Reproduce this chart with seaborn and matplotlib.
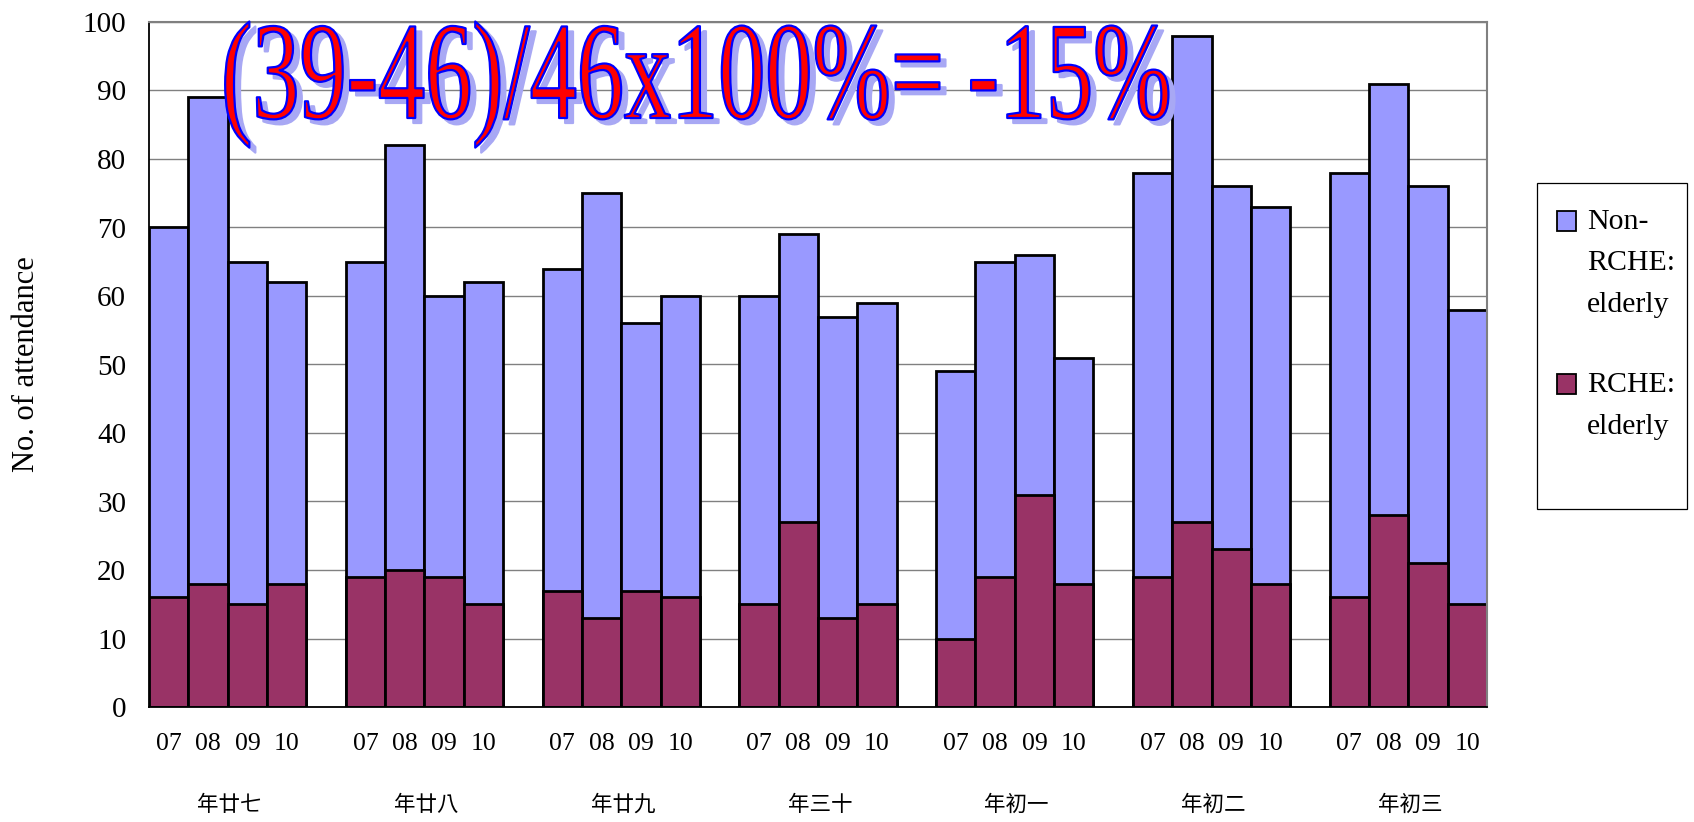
import numpy as np
import pandas as pd
import seaborn as sns
import matplotlib
matplotlib.use("Agg")
import matplotlib.pyplot as plt
from matplotlib.patheffects import AbstractPathEffect
from matplotlib.transforms import Affine2D
from matplotlib.colors import to_rgba
from matplotlib.patches import Rectangle

# ---- data -------------------------------------------------------------
days = ["年廿七", "年廿八", "年廿九", "年三十", "年初一", "年初二", "年初三"]
years = ["07", "08", "09", "10"]

# attendance of elderly living in residential care homes (RCHE)
rche = [
    [16, 18, 15, 18],
    [19, 20, 19, 15],
    [17, 13, 17, 16],
    [15, 27, 13, 15],
    [10, 19, 31, 18],
    [19, 27, 23, 18],
    [16, 28, 21, 15],
]
# total elderly attendance (RCHE + non-RCHE)
total = [
    [70, 89, 65, 62],
    [65, 82, 60, 62],
    [64, 75, 56, 60],
    [60, 69, 57, 59],
    [49, 65, 66, 51],
    [78, 98, 76, 73],
    [78, 91, 76, 58],
]

legend_labels = ["Non-\nRCHE:\nelderly", "RCHE:\nelderly"]
headline = "(39-46)/46x100%= -15%"
ylabel = "No. of attendance"

C_NON = "#9999FF"
C_RCHE = "#993366"

# ---- tidy table: one row per bar, blank slot between days -------------
rows = []
for g, day in enumerate(days):
    for i, yr in enumerate(years):
        rows.append(dict(day=day, year=yr, slot=g * (len(years) + 1) + i,
                         total=total[g][i], rche=rche[g][i]))
df = pd.DataFrame(rows)


class StretchedOutline(AbstractPathEffect):
    """Glyphs stretched vertically about the baseline, with drop shadow and outline."""

    def __init__(self, sy=1.5, fill="red", edge="blue", edge_lw=1.6,
                 shadow="#A8A8F4", shadow_px=(6, -5)):
        super().__init__()
        self.sy, self.fill, self.edge, self.edge_lw = sy, fill, edge, edge_lw
        self.shadow, self.shadow_px = shadow, shadow_px

    def draw_path(self, renderer, gc, tpath, affine, rgbFace=None):
        base = Affine2D().scale(1.0, self.sy) + affine
        if self.shadow is not None:
            g = renderer.new_gc()
            g.copy_properties(gc)
            g.set_foreground(self.shadow)
            g.set_linewidth(self.edge_lw)
            g.set_joinstyle("round")
            renderer.draw_path(g, tpath, base + Affine2D().translate(*self.shadow_px),
                               to_rgba(self.shadow))
            g.restore()
        g = renderer.new_gc()
        g.copy_properties(gc)
        g.set_foreground(self.edge)
        g.set_linewidth(self.edge_lw)
        g.set_joinstyle("round")
        renderer.draw_path(g, tpath, base, to_rgba(self.fill))
        g.restore()


plt.rcParams["font.family"] = ["Liberation Serif", "DejaVu Serif"]
cjk = ["Noto Sans CJK TC", "DejaVu Sans"]

W, H, DPI = 1694, 822, 100
fig = plt.figure(figsize=(W / DPI, H / DPI), dpi=DPI, facecolor="white")
ax = fig.add_axes([149 / W, 1 - 707 / H, (1487 - 149) / W, (707 - 22) / H])
ax.set_facecolor("white")

bar_kw = dict(native_scale=True, width=1.0, saturation=1, errorbar=None,
              edgecolor="black", linewidth=2.0, ax=ax)
sns.barplot(data=df, x="slot", y="total", color=C_NON, **bar_kw)
sns.barplot(data=df, x="slot", y="rche", color=C_RCHE, **bar_kw)

ax.set_xlim(-0.5, df["slot"].max() + 0.5)
ax.set_ylim(0, 100)
ax.set_yticks(np.arange(0, 101, 10))
ax.tick_params(axis="y", length=0, pad=16.5, labelsize=21)
ax.set_xticks(df["slot"], df["year"])
ax.tick_params(axis="x", length=0, pad=19, labelsize=18.5)
ax.set_axisbelow(True)
ax.yaxis.grid(True, color="#808080", linewidth=1.0)
ax.xaxis.grid(False)
for side in ("left", "bottom"):
    ax.spines[side].set_color("black")
    ax.spines[side].set_linewidth(1.3)
for side in ("top", "right"):
    ax.spines[side].set_color("#808080")
    ax.spines[side].set_linewidth(1.5)

ax.set_xlabel("")
ax.set_ylabel(ylabel, fontsize=22)
ax.yaxis.set_label_coords(-0.081, 0.5)

# day names under each group of four years
for g, day in enumerate(days):
    ax.text(g * (len(years) + 1) + 1.55, -0.143, day, transform=ax.get_xaxis_transform(),
            ha="center", va="center", fontsize=15.5, family=cjk)

# ---- legend box -----------------------------------------------------------
fig.patches.append(Rectangle((1537 / W, 1 - 509 / H), 150 / W, 326 / H,
                             transform=fig.transFigure, facecolor="white",
                             edgecolor="black", linewidth=0.9))
entry_tops = [229, 392]
line_step = 41.5
for top, label, col in zip(entry_tops, legend_labels, [C_NON, C_RCHE]):
    fig.patches.append(Rectangle((1557 / W, 1 - (top + 2) / H), 19 / W, 20 / H,
                                 transform=fig.transFigure, facecolor=col,
                                 edgecolor="black", linewidth=1.3))
    for k, line in enumerate(label.split("\n")):
        fig.text(1587 / W, 1 - (top + k * line_step) / H, line,
                 ha="left", va="baseline", fontsize=21.5)

# ---- headline --------------------------------------------------------------
title = fig.text(221 / W, 1 - 118 / H, headline, ha="left", va="baseline",
                 fontsize=68, color="red")
fig.canvas.draw()
w = title.get_window_extent().width
fs = 68 * 951 / w
title.set_fontsize(fs)
em_px = fs * DPI / 72
title.set_path_effects([StretchedOutline(sy=94 / (0.676 * em_px))])

fig.savefig("out.png", dpi=DPI, facecolor="white")
